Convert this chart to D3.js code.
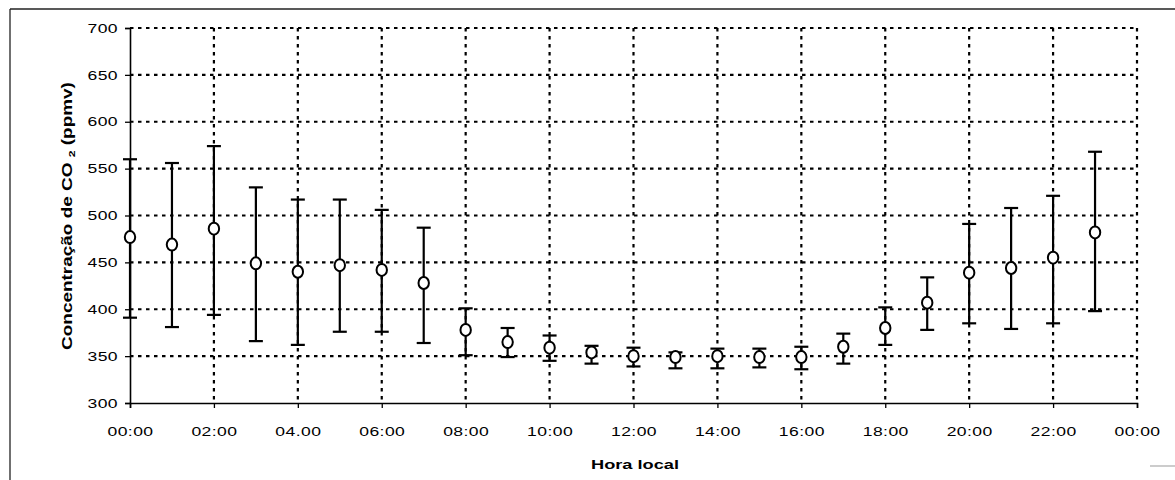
<!DOCTYPE html>
<html><head><meta charset="utf-8">
<script src="https://cdn.jsdelivr.net/npm/d3@7"></script>
<style>body{margin:0;background:#fff}svg{display:block}</style>
</head><body>
<svg id="c" width="1175" height="480"></svg>
<script>
const hours = [0,1,2,3,4,5,6,7,8,9,10,11,12,13,14,15,16,17,18,19,20,21,22,23];
const meanCO2 = [477,469,486,449,440,447,442,428,378,365,359,354,350,349,350,349,349,360,380,407,439,444,455,482];
const upperCO2 = [560,556,574,530,517,517,506,487,401,380,372,361,359,354,358,358,360,374,402,434,491,508,521,568];
const lowerCO2 = [391,381,394,366,362,376,376,364,351,349,345,342,339,337,337,338,336,342,362,378,385,379,385,398];
const yTicks = [300,350,400,450,500,550,600,650,700];
const xTicks = [0,2,4,6,8,10,12,14,16,18,20,22,24];
const xTickLabels = ["00:00","02:00","04.00","06:00","08:00","10:00","12:00","14:00","16:00","18:00","20:00","22:00","00:00"];

const svg = d3.select("#c");
const L=130, R=1137, T=28, B=403;
const x = d3.scaleLinear().domain([0,24]).range([L,R]);
const y = d3.scaleLinear().domain([300,700]).range([B,T]);
const font = "'Liberation Sans', Arial, sans-serif";

// outer frame (scan border)
svg.append("line").attr("x1",10).attr("x2",10).attr("y1",9).attr("y2",480).attr("stroke","#222").attr("stroke-width",1.3);
svg.append("line").attr("x1",10).attr("x2",1175).attr("y1",9).attr("y2",9).attr("stroke","#222").attr("stroke-width",1.3);
svg.append("line").attr("x1",1150).attr("x2",1175).attr("y1",466).attr("y2",466).attr("stroke","#bbb").attr("stroke-width",1.5);

// gridlines
const grid = svg.append("g").attr("stroke","#000").attr("stroke-width",2.2).attr("stroke-dasharray","3.5,4.5");
grid.selectAll(".h").data(yTicks.filter(d=>d>300)).join("line")
  .attr("x1",L).attr("x2",R).attr("y1",d=>y(d)).attr("y2",d=>y(d));
grid.selectAll(".v").data(xTicks.filter(d=>d>0)).join("line")
  .attr("x1",d=>x(d)).attr("x2",d=>x(d)).attr("y1",T).attr("y2",B);

// axes
const SX = 1.35;
const yAxis = d3.axisLeft(y).tickValues(yTicks).tickSize(5).tickPadding(7).tickFormat(d3.format("d"));
const gy = svg.append("g").attr("transform",`translate(${L},0)`).call(yAxis);
const xAxis = d3.axisBottom(x).tickValues(xTicks).tickSize(5).tickPadding(19).tickFormat((d,i)=>xTickLabels[i]);
const gx = svg.append("g").attr("transform",`translate(0,${B})`).call(xAxis);
[gx,gy].forEach(g=>{
  g.select(".domain").attr("stroke","#000").attr("stroke-width",1.6);
  g.selectAll(".tick line").attr("stroke","#000").attr("stroke-width",1.3);
  g.selectAll("text").attr("font-family",font).attr("font-size",13).attr("fill","#000")
    .attr("letter-spacing","0.3px")
    .each(function(){
      const t = d3.select(this);
      const tx = +t.attr("x")||0, ty = +t.attr("y")||0;
      t.attr("x",0).attr("y",0).attr("transform",`translate(${tx},${ty}) scale(${SX},1)`);
    });
});

// error bars
const cap = 7;
const eb = svg.append("g").attr("stroke","#000").attr("stroke-width",2.2);
hours.forEach((h,i)=>{
  eb.append("line").attr("x1",x(h)).attr("x2",x(h)).attr("y1",y(upperCO2[i])).attr("y2",y(lowerCO2[i]));
  eb.append("line").attr("x1",x(h)-cap).attr("x2",x(h)+cap).attr("y1",y(upperCO2[i])).attr("y2",y(upperCO2[i]));
  eb.append("line").attr("x1",x(h)-cap).attr("x2",x(h)+cap).attr("y1",y(lowerCO2[i])).attr("y2",y(lowerCO2[i]));
});
// markers
svg.append("g").selectAll("ellipse").data(hours).join("ellipse")
  .attr("cx",d=>x(d)).attr("cy",(d,i)=>y(meanCO2[i])).attr("rx",5.2).attr("ry",6)
  .attr("fill","#fff").attr("stroke","#000").attr("stroke-width",2);

// axis titles (stretched like the scan)
function stretched(cx, cy, rot, target, build){
  const g = svg.append("g").attr("transform",`translate(${cx},${cy}) rotate(${rot})`);
  const t = g.append("text").attr("text-anchor","middle").attr("font-family",font).attr("font-weight","bold");
  build(t);
  const len = t.node().getComputedTextLength();
  t.attr("transform",`scale(${target/len},1)`);
  return t;
}
stretched(635, 469, 0, 88, t=>t.attr("font-size",13).text("Hora local"));
stretched(72, 216, -90, 268, t=>{
  t.attr("font-size",14);
  t.append("tspan").text("Concentração de CO ");
  t.append("tspan").attr("font-size",9).attr("dy",3).text("2");
  t.append("tspan").attr("dy",-3).text(" (ppmv)");
});
</script>
</body></html>
